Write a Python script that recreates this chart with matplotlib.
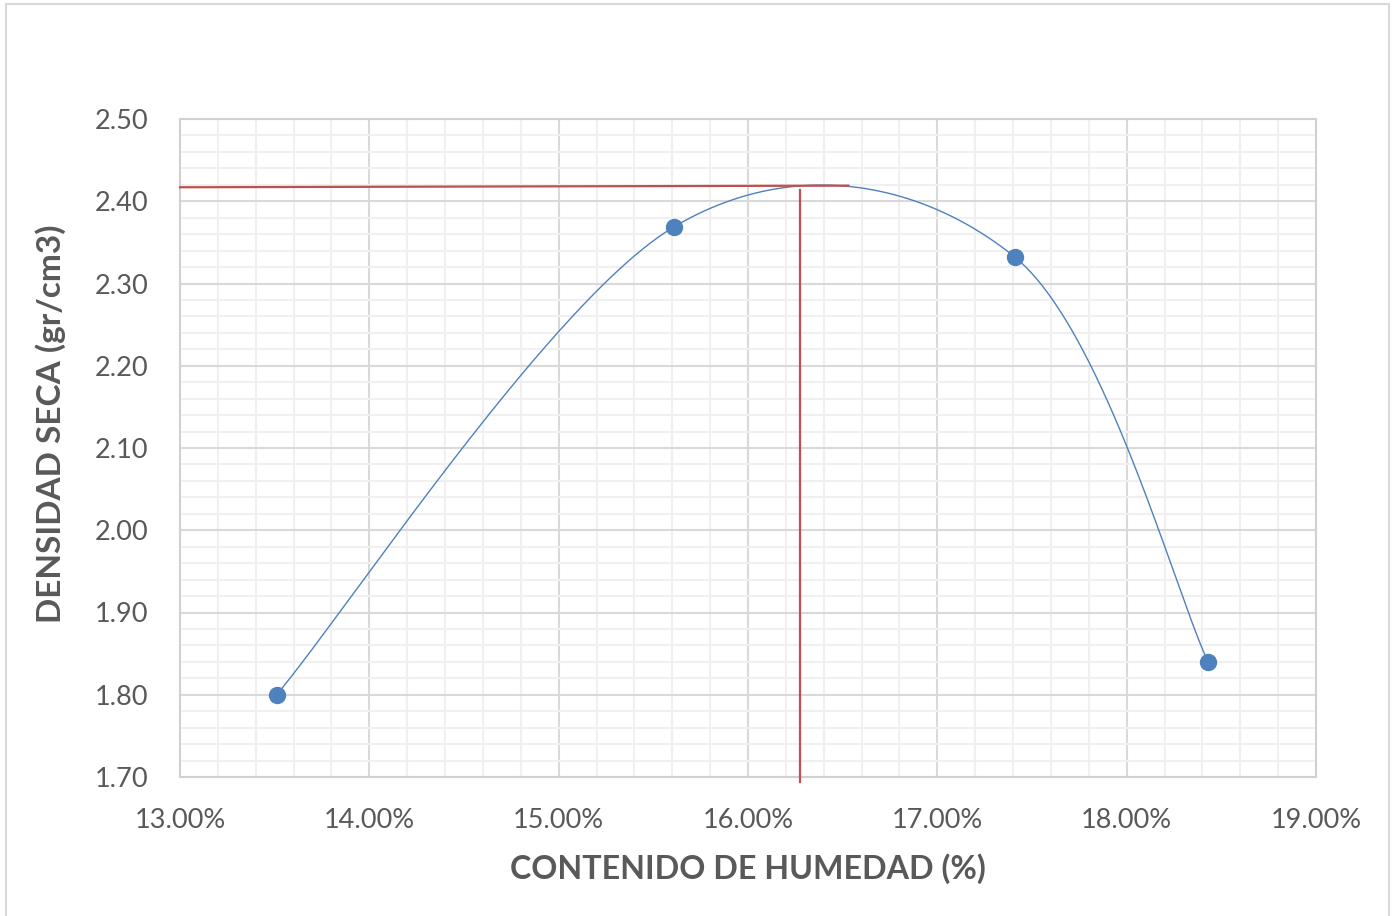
import matplotlib
matplotlib.use("Agg")
import matplotlib.pyplot as plt
import numpy as np
from matplotlib.ticker import MultipleLocator, FuncFormatter
from matplotlib.patches import Rectangle

# Data
humedad = [0.1351, 0.1561, 0.1741, 0.1843]
densidad = [1.80, 2.369, 2.332, 1.840]
max_dens_line_x = [0.13, 0.1653]
max_dens_line_y = [2.417, 2.419]
opt_hum_line_x = [0.16275, 0.16275]
opt_hum_line_y = [1.6936, 2.4137]
x_ticks = [0.13, 0.14, 0.15, 0.16, 0.17, 0.18, 0.19]
y_ticks = [1.70, 1.80, 1.90, 2.00, 2.10, 2.20, 2.30, 2.40, 2.50]
xlabel = "CONTENIDO DE HUMEDAD (%)"
ylabel = "DENSIDAD SECA (gr/cm3)"

plt.rcParams['font.family'] = ['Lato', 'DejaVu Sans']

fig = plt.figure(figsize=(13.94, 9.16), dpi=100)
ax = fig.add_axes([180/1394, 1-777/916, (1316-180)/1394, (777-119)/916])

ax.set_xlim(0.13, 0.19)
ax.set_ylim(1.70, 2.50)
ax.set_xticks(x_ticks)
ax.set_yticks(y_ticks)
ax.xaxis.set_minor_locator(MultipleLocator(0.002))
ax.yaxis.set_minor_locator(MultipleLocator(0.02))
ax.xaxis.set_major_formatter(FuncFormatter(lambda v, p: f"{v*100:.2f}%"))
ax.yaxis.set_major_formatter(FuncFormatter(lambda v, p: f"{v:.2f}"))

ax.grid(which='major', color='#D9D9D9', linewidth=1.5, zorder=0)
ax.grid(which='minor', color='#F0F0F0', linewidth=1.5, zorder=0)
ax.set_axisbelow(True)
for s in ax.spines.values():
    s.set_color('#D0D0D0')
    s.set_linewidth(1.5)
ax.tick_params(which='both', length=0)
ax.tick_params(axis='x', pad=22, labelsize=19.5, labelcolor='#595959')
ax.tick_params(axis='y', pad=23, labelsize=19.5, labelcolor='#595959')

# Smooth curve (Excel-style Catmull-Rom bezier in display space)
fig.canvas.draw()
pts = ax.transData.transform(np.column_stack([humedad, densidad]))
n = len(pts)
curve = []
t = np.linspace(0, 1, 100)[:, None]
for i in range(n - 1):
    p0 = pts[i - 1] if i > 0 else pts[i]
    p1 = pts[i]
    p2 = pts[i + 1]
    p3 = pts[i + 2] if i + 2 < n else pts[i + 1]
    c1 = p1 + (p2 - p0) / 6
    c2 = p2 - (p3 - p1) / 6
    seg = (1-t)**3*p1 + 3*(1-t)**2*t*c1 + 3*(1-t)*t**2*c2 + t**3*p2
    curve.append(seg)
curve = np.vstack(curve)
curve_data = ax.transData.inverted().transform(curve)
ax.plot(curve_data[:, 0], curve_data[:, 1], color='#4F81BD', linewidth=1.0, zorder=3)
ax.plot(humedad, densidad, 'o', color='#4F81BD', markersize=11.5, zorder=4)

ax.plot(max_dens_line_x, max_dens_line_y, color='#C0504D', linewidth=1.6, zorder=5, clip_on=False)
ax.plot(opt_hum_line_x, opt_hum_line_y, color='#C0504D', linewidth=1.6, zorder=5, clip_on=False)

ax.set_xlabel(xlabel, fontsize=23.2, fontweight='bold', color='#595959', labelpad=15)
ax.set_ylabel(ylabel, fontsize=24, fontweight='bold', color='#595959')
ax.yaxis.set_label_coords((66-180)/1136, 1-(423.5-119)/658)

fig.patches.append(Rectangle((6/1394, -0.01), (1389-6)/1394, 1-4/916+0.01,
                             transform=fig.transFigure, fill=False,
                             edgecolor='#D9D9D9', linewidth=1.5))

fig.savefig("out.png", dpi=100)
